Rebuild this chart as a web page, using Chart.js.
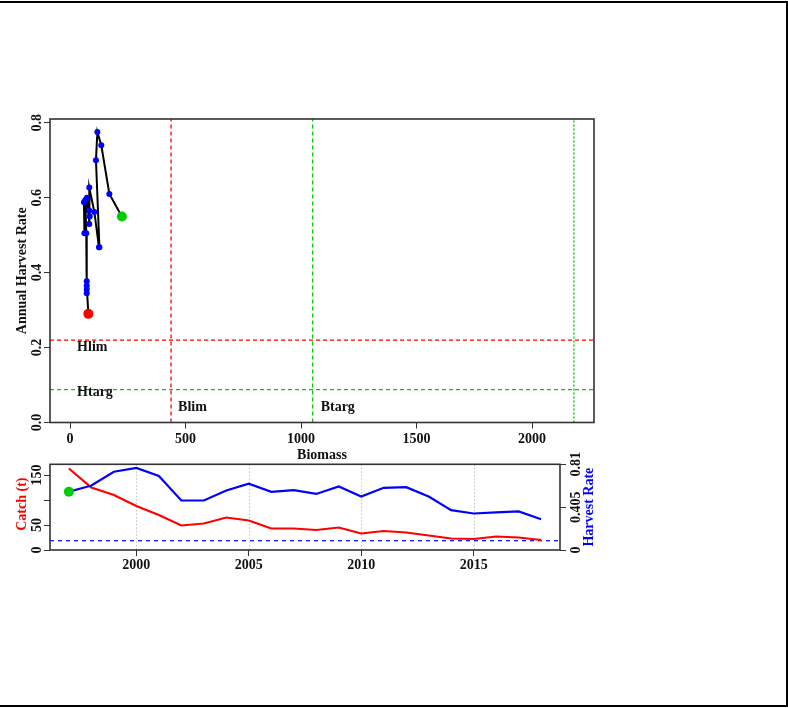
<!DOCTYPE html>
<html><head><meta charset="utf-8">
<script src="https://cdn.jsdelivr.net/npm/chart.js@4.4.0/dist/chart.umd.min.js"></script>
<style>
html,body{margin:0;padding:0;background:#fff;}
#wrap{position:relative;width:788px;height:708px;overflow:hidden;background:#fff;}
#frame{position:absolute;left:0;top:1px;width:788px;height:706px;border-top:2px solid #000;border-right:2px solid #000;border-bottom:2px solid #000;box-sizing:border-box;pointer-events:none;}
canvas{position:absolute;left:0;top:0;}
</style></head><body>
<div id="wrap">
<canvas id="c1" width="788" height="708"></canvas>
<canvas id="c2" width="788" height="708"></canvas>
<div id="frame"></div>
</div>
<script>
// ---- data ----
const years = [1997,1998,1999,2000,2001,2002,2003,2004,2005,2006,2007,2008,2009,2010,2011,2012,2013,2014,2015,2016,2017,2018];
const biomass = [224,170,135,118,112,127,125,105,83,85,83,83,73,62,60,66,70,72,72,72,72,79];
const harvestRate = [0.55,0.61,0.74,0.775,0.70,0.468,0.468,0.562,0.627,0.55,0.566,0.53,0.60,0.505,0.588,0.594,0.505,0.377,0.345,0.355,0.365,0.29];
const catchT = [163,125,110,88,70,49,53,65,59,43,43,40,45,33,38,35,29,23,22,27,25,20];
const Blim = 437, Btarg = 1050, B0 = 2181, Hlim = 0.22, Htarg = 0.088;
const bioTicks = [0,500,1000,1500,2000];
const hrTicks = [0,0.2,0.4,0.6,0.8];
const hrTickLabels = ['0.0','0.2','0.4','0.6','0.8'];
const yearTicks = [2000,2005,2010,2015];
const catchTicks = [0,50,100,150];
const catchTickLabels = ['0','50','','150'];
const hrRightTicks = [0,0.405,0.81];
const hrRightLabels = ['0','0.405','0.81'];

const FONT = 'bold 14px "Liberation Serif", "Times New Roman", serif';
const TXT = '#111';
const RED = '#ff0000', BLUE = '#0000ff', GREEN = '#00cd00';

function rotText(ctx, s, x, y){
  ctx.save(); ctx.translate(x, y); ctx.rotate(-Math.PI/2);
  ctx.textAlign='center'; ctx.textBaseline='middle';
  ctx.fillText(s, 0, 0); ctx.restore();
}
function drawBox(ctx, a){
  ctx.save(); ctx.strokeStyle='#333'; ctx.lineWidth=1.6;
  ctx.strokeRect(a.left, a.top, a.right-a.left, a.bottom-a.top); ctx.restore();
}
function fixedTicks(arr){ return s => { s.ticks = arr.map(v => ({value:v})); }; }
const tickGrid = {display:true, drawOnChartArea:false, drawTicks:true, tickLength:6, color:'#333', tickColor:'#333', lineWidth:1};

// ---- top chart ----
const topText = {
  id:'topText',
  afterDraw(chart){
    const {ctx, chartArea:a, scales:{x, y}} = chart;
    drawBox(ctx, a);
    ctx.save();
    ctx.fillStyle = TXT; ctx.font = FONT; ctx.textAlign='center'; ctx.textBaseline='middle';
    bioTicks.forEach(v => ctx.fillText(String(v), x.getPixelForValue(v), a.bottom+17));
    hrTicks.forEach((v,i) => rotText(ctx, hrTickLabels[i], a.left-13, y.getPixelForValue(v)));
    ctx.fillText('Biomass', (a.left+a.right)/2, a.bottom+33);
    rotText(ctx, 'Annual Harvest Rate', a.left-28, (a.top+a.bottom)/2);
    ctx.textAlign='left';
    ctx.fillText('Hlim', x.getPixelForValue(0)+7, y.getPixelForValue(Hlim)+7);
    ctx.fillText('Htarg', x.getPixelForValue(0)+7, y.getPixelForValue(Htarg)+3);
    ctx.fillText('Blim', x.getPixelForValue(Blim)+7, a.bottom-15);
    ctx.fillText('Btarg', x.getPixelForValue(Btarg)+8, a.bottom-15);
    ctx.restore();
  }
};
const XMIN = -87, XMAX = 2268, YMAX = 0.81;
const path = years.map((yr,i) => ({x:biomass[i], y:harvestRate[i]}));
new Chart(document.getElementById('c1'), {
  type:'scatter',
  data:{datasets:[
    {data:[path[path.length-1]], pointRadius:5, pointBackgroundColor:RED, pointBorderWidth:0, order:0},
    {data:[path[0]], pointRadius:5, pointBackgroundColor:GREEN, pointBorderWidth:0, order:0},
    {data:path, pointRadius:3, pointBackgroundColor:BLUE, pointBorderWidth:0, order:1},
    {data:path, showLine:true, borderColor:'#000', borderWidth:2, pointRadius:0, order:2},
    {data:[{x:Blim,y:0},{x:Blim,y:YMAX}], showLine:true, borderColor:RED, borderWidth:1.3, borderDash:[4,3], pointRadius:0, order:3},
    {data:[{x:Btarg,y:0},{x:Btarg,y:YMAX}], showLine:true, borderColor:GREEN, borderWidth:1.3, borderDash:[4,3], pointRadius:0, order:3},
    {data:[{x:B0,y:0},{x:B0,y:YMAX}], showLine:true, borderColor:GREEN, borderWidth:1.4, borderDash:[2,2], pointRadius:0, order:3},
    {data:[{x:XMIN,y:Hlim},{x:XMAX,y:Hlim}], showLine:true, borderColor:RED, borderWidth:1.3, borderDash:[4,3], pointRadius:0, order:3},
    {data:[{x:XMIN,y:Htarg},{x:XMAX,y:Htarg}], showLine:true, borderColor:GREEN, borderWidth:1.3, borderDash:[4,3], pointRadius:0, order:3}
  ]},
  options:{
    responsive:false, animation:false, devicePixelRatio:1,
    layout:{padding:{left:0, top:119, right:194, bottom:708-422.5-20}},
    plugins:{legend:{display:false}, tooltip:{enabled:false}},
    scales:{
      x:{type:'linear', min:XMIN, max:XMAX, afterBuildTicks:fixedTicks(bioTicks), afterFit:s=>{s.height=20;},
         ticks:{display:false}, grid:tickGrid, border:{display:false}},
      y:{type:'linear', min:0, max:YMAX, afterBuildTicks:fixedTicks(hrTicks), afterFit:s=>{s.width=50;},
         ticks:{display:false}, grid:tickGrid, border:{display:false}}
    }
  },
  plugins:[topText]
});

// ---- bottom chart ----
const botText = {
  id:'botText',
  beforeDatasetsDraw(chart){
    const {ctx, chartArea:a, scales:{x}} = chart;
    ctx.save(); ctx.strokeStyle='#c0c0c0'; ctx.lineWidth=1; ctx.setLineDash([1.5,2]);
    yearTicks.forEach(v => { const px = Math.round(x.getPixelForValue(v))+0.5;
      ctx.beginPath(); ctx.moveTo(px, a.top); ctx.lineTo(px, a.bottom); ctx.stroke(); });
    ctx.restore();
  },
  afterDraw(chart){
    const {ctx, chartArea:a, scales:{x, y, y1}} = chart;
    drawBox(ctx, a);
    ctx.save();
    ctx.fillStyle = TXT; ctx.font = FONT; ctx.textAlign='center'; ctx.textBaseline='middle';
    yearTicks.forEach(v => ctx.fillText(String(v), x.getPixelForValue(v), a.bottom+15));
    catchTicks.forEach((v,i) => { if (catchTickLabels[i]) rotText(ctx, catchTickLabels[i], a.left-13, y.getPixelForValue(v)); });
    hrRightTicks.forEach((v,i) => rotText(ctx, hrRightLabels[i], a.right+16.5, y1.getPixelForValue(v)));
    ctx.fillStyle = RED; rotText(ctx, 'Catch (t)', a.left-28, (a.top+a.bottom)/2 - 3);
    ctx.fillStyle = BLUE; rotText(ctx, 'Harvest Rate', a.right+29, (a.top+a.bottom)/2);
    ctx.restore();
  }
};
const YR_MIN = 1996.16, YR_MAX = 2018.84;
new Chart(document.getElementById('c2'), {
  type:'line',
  data:{datasets:[
    {data:[{x:years[0], y:harvestRate[0]}], yAxisID:'y1', showLine:false, pointRadius:5, pointBackgroundColor:GREEN, pointBorderWidth:0, order:0},
    {data:years.map((yr,i)=>({x:yr, y:harvestRate[i]})), yAxisID:'y1', borderColor:BLUE, borderWidth:2.2, pointRadius:0, tension:0, order:1},
    {data:years.map((yr,i)=>({x:yr, y:catchT[i]})), yAxisID:'y', borderColor:RED, borderWidth:2.2, pointRadius:0, tension:0, order:2},
    {data:[{x:YR_MIN, y:Htarg},{x:YR_MAX, y:Htarg}], yAxisID:'y1', borderColor:BLUE, borderWidth:1.2, borderDash:[4,4], pointRadius:0, order:3}
  ]},
  options:{
    responsive:false, animation:false, devicePixelRatio:1,
    layout:{padding:{left:0, top:464.3, right:0, bottom:708-550-20}},
    plugins:{legend:{display:false}, tooltip:{enabled:false}},
    scales:{
      x:{type:'linear', min:YR_MIN, max:YR_MAX, afterBuildTicks:fixedTicks(yearTicks), afterFit:s=>{s.height=20;},
         ticks:{display:false}, grid:tickGrid, border:{display:false}},
      y:{type:'linear', position:'left', min:0, max:171.4, afterBuildTicks:fixedTicks(catchTicks), afterFit:s=>{s.width=50;},
         ticks:{display:false}, grid:tickGrid, border:{display:false}},
      y1:{type:'linear', position:'right', min:0, max:0.81, afterBuildTicks:fixedTicks(hrRightTicks), afterFit:s=>{s.width=228;},
         ticks:{display:false}, grid:tickGrid, border:{display:false}}
    }
  },
  plugins:[botText]
});
</script>
</body></html>
